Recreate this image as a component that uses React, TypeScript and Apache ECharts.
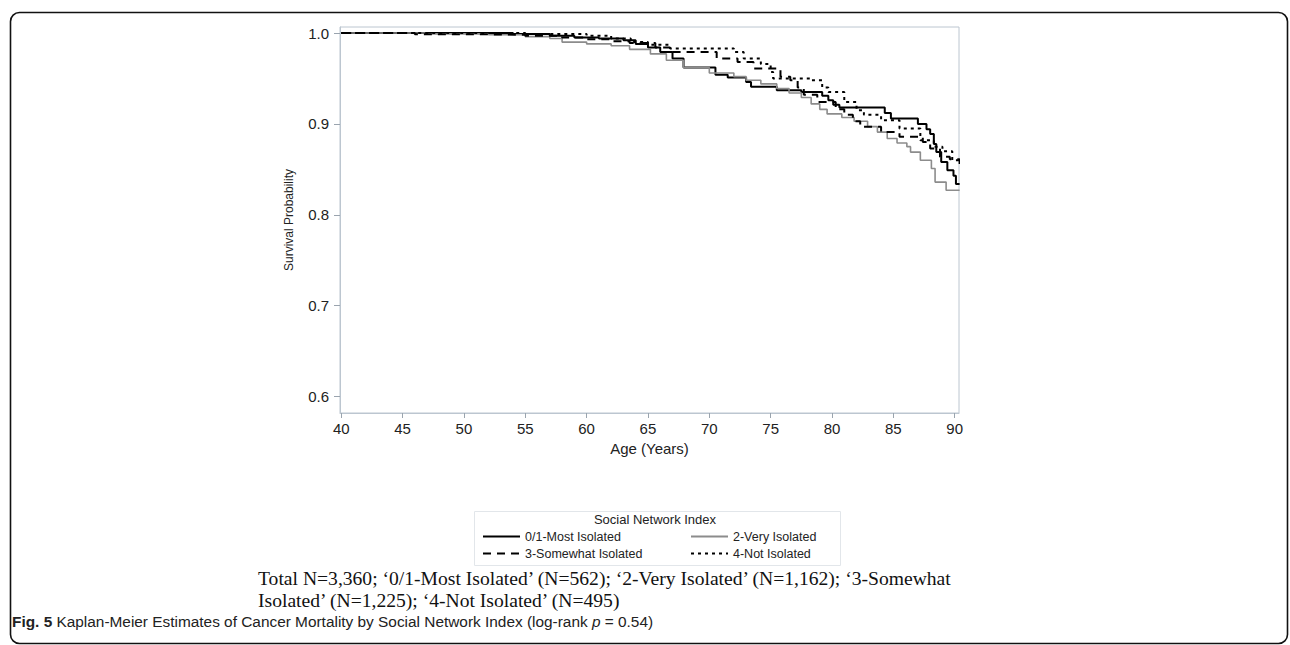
import React, { useEffect, useRef } from "react";
import * as echarts from "echarts";

const xTicks = [40, 45, 50, 55, 60, 65, 70, 75, 80, 85, 90];
const yTicks = [0.6, 0.7, 0.8, 0.9, 1.0];

const seriesNames = ["0/1-Most Isolated", "2-Very Isolated", "3-Somewhat Isolated", "4-Not Isolated"];

const mostIsolated = [
  [40, 1], [50, 1], [54, 0.999], [57, 0.997], [59, 0.995], [61, 0.994], [63, 0.992], [64, 0.988],
  [65, 0.984], [66, 0.979], [67, 0.972], [67.9, 0.962], [70.5, 0.954], [71.5, 0.951], [73, 0.946],
  [73.4, 0.941], [75.5, 0.937], [77.5, 0.935], [79.2, 0.931], [79.7, 0.926], [80.1, 0.921],
  [80.6, 0.918], [84.3, 0.912], [84.8, 0.906], [87.0, 0.900], [87.7, 0.894], [88.0, 0.889],
  [88.3, 0.878], [88.5, 0.869], [88.9, 0.858], [89.4, 0.849], [89.9, 0.843], [90.1, 0.834], [90.4, 0.834],
];

const veryIsolated = [
  [40, 1], [47, 0.999], [52, 0.998], [55, 0.996], [57, 0.994], [58, 0.990], [60, 0.988], [62, 0.986],
  [63.5, 0.982], [65.2, 0.977], [66.5, 0.970], [67.9, 0.962], [70, 0.956], [72, 0.952], [73, 0.948],
  [74.2, 0.944], [75.5, 0.939], [76.5, 0.934], [77.5, 0.929], [78.3, 0.922], [79, 0.916], [79.6, 0.911],
  [80.8, 0.907], [81.8, 0.903], [82.9, 0.897], [83.7, 0.891], [84.5, 0.884], [85.3, 0.879],
  [86.1, 0.875], [86.4, 0.869], [87.2, 0.860], [88.1, 0.851], [88.4, 0.836], [89.3, 0.827], [90.4, 0.827],
];

const somewhatIsolated = [
  [40, 1], [46, 0.9985], [52, 0.998], [55, 0.997], [58, 0.995], [60, 0.993], [62, 0.991], [63.5, 0.989],
  [65.6, 0.984], [66.8, 0.979], [70.6, 0.972], [72.3, 0.968], [73.6, 0.961], [75.8, 0.952], [76.6, 0.948],
  [77.2, 0.940], [77.7, 0.932], [78.8, 0.924], [80.3, 0.916], [81, 0.910], [81.7, 0.903], [82.3, 0.897],
  [84, 0.891], [85.5, 0.886], [87.4, 0.880], [88, 0.873], [88.8, 0.864], [89.6, 0.861], [90.4, 0.856],
];

const notIsolated = [
  [40, 1], [55, 0.999], [60, 0.997], [62, 0.994], [63.6, 0.990], [65, 0.987], [66.8, 0.983],
  [72, 0.979], [72.8, 0.972], [74.2, 0.966], [75, 0.957], [75.2, 0.950], [78.2, 0.948], [79.2, 0.940],
  [79.7, 0.935], [81, 0.924], [82, 0.915], [82.6, 0.910], [84, 0.904], [85.5, 0.895], [87.2, 0.882],
  [88.3, 0.875], [89, 0.870], [89.8, 0.860], [90.4, 0.860],
];

const sans = "'Liberation Sans', Arial, sans-serif";

export default function App() {
  const ref = useRef<HTMLDivElement>(null);
  useEffect(() => {
    const chart = echarts.init(ref.current!, null, { renderer: "svg" });
    const mk = (name: string, data: number[][], color: string, width: number, type: any) => ({
      name,
      type: "line",
      step: "end",
      data,
      symbol: "none",
      showSymbol: false,
      lineStyle: { color, width, type },
      itemStyle: { color },
      z: 3,
    });
    const legendCommon = {
      top: 530, orient: "vertical", itemWidth: 37, itemHeight: 12, itemGap: 4, padding: 0,
      itemStyle: { opacity: 0 },
      textStyle: { color: "#222", fontFamily: sans, fontSize: 12.5 },
      selectedMode: false,
    };
    chart.setOption({
      animation: false,
      backgroundColor: "#fff",
      grid: {
        left: 340, top: 27, width: 619, height: 386,
        show: true, borderColor: "#bcc6d0", borderWidth: 1, backgroundColor: "transparent",
      },
      xAxis: {
        type: "value", min: 39.9, max: 90.35,
        axisLine: { show: true, lineStyle: { color: "#bcc6d0" } },
        axisTick: { show: true, length: 5, customValues: xTicks, lineStyle: { color: "#9aa4ae" } },
        axisLabel: { customValues: xTicks, color: "#222", fontFamily: sans, fontSize: 15, margin: 8 },
        splitLine: { show: false },
        name: "Age (Years)", nameLocation: "middle", nameGap: 26,
        nameTextStyle: { color: "#222", fontFamily: sans, fontSize: 15, verticalAlign: "top" },
      },
      yAxis: {
        type: "value", min: 0.582, max: 1.0066,
        axisLine: { show: true, lineStyle: { color: "#bcc6d0" } },
        axisTick: { show: true, length: 6, customValues: yTicks, lineStyle: { color: "#9aa4ae" } },
        axisLabel: {
          customValues: yTicks, color: "#222", fontFamily: sans, fontSize: 15, margin: 11,
          formatter: (v: number) => v.toFixed(1),
        },
        splitLine: { show: false },
        name: "Survival Probability", nameLocation: "middle", nameGap: 45,
        nameTextStyle: { color: "#222", fontFamily: sans, fontSize: 12 },
      },
      legend: [
        { ...legendCommon, left: 482, data: [seriesNames[0], seriesNames[2]] },
        { ...legendCommon, left: 690, data: [seriesNames[1], seriesNames[3]] },
      ],
      graphic: [
        {
          type: "rect", left: 8, top: 10, z: -1,
          shape: { x: 0, y: 0, width: 1277, height: 631, r: 9 },
          style: { fill: "none", stroke: "#111", lineWidth: 1.6 },
        },
        {
          type: "rect", left: 472, top: 509,
          shape: { x: 0, y: 0, width: 366, height: 54 },
          style: { fill: "none", stroke: "#e2e6ea", lineWidth: 1 },
        },
        {
          type: "text", x: 655, y: 513,
          style: { text: "Social Network Index", fill: "#222", font: `13px ${sans}`, align: "center" },
        },
        {
          type: "text", left: 258, top: 567,
          style: {
            text: "Total N=3,360; \u20180/1-Most Isolated\u2019 (N=562); \u20182-Very Isolated\u2019 (N=1,162); \u20183-Somewhat\nIsolated\u2019 (N=1,225); \u20184-Not Isolated\u2019 (N=495)",
            fill: "#111", font: "19.6px 'Liberation Serif', 'Times New Roman', serif", lineHeight: 22,
          },
        },
        {
          type: "text", left: 12, top: 614,
          style: {
            text: "{b|Fig. 5} Kaplan-Meier Estimates of Cancer Mortality by Social Network Index (log-rank {i|p} = 0.54)",
            fill: "#222", font: `15.4px ${sans}`,
            rich: {
              b: { fontWeight: "bold", fontFamily: sans, fontSize: 15.4, fill: "#222" },
              i: { fontStyle: "italic", fontFamily: sans, fontSize: 15.4, fill: "#222" },
            },
          },
        },
      ],
      series: [
        mk(seriesNames[0], mostIsolated, "#000", 2, "solid"),
        mk(seriesNames[1], veryIsolated, "#8c8c8c", 1.6, "solid"),
        mk(seriesNames[2], somewhatIsolated, "#000", 2, [8, 6]),
        mk(seriesNames[3], notIsolated, "#000", 2, [3, 4]),
      ],
    });
    return () => chart.dispose();
  }, []);
  return <div ref={ref} style={{ position: "fixed", left: 0, top: 0, width: 1290, height: 645 }} />;
}
